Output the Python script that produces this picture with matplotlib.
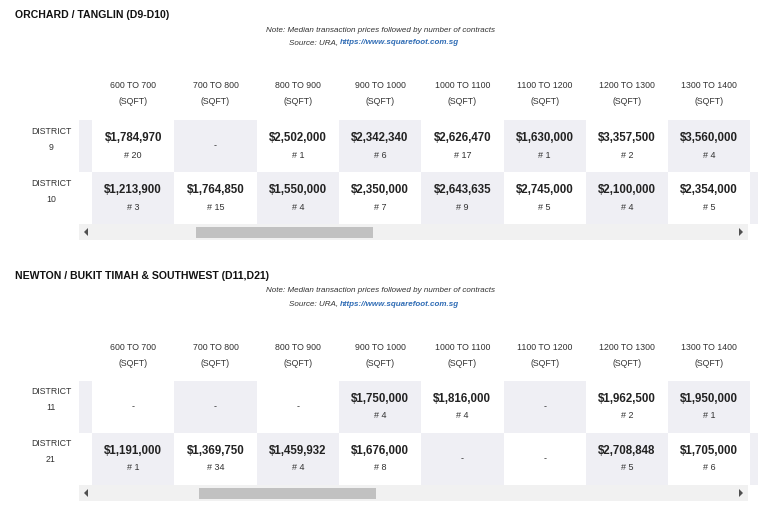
import matplotlib
matplotlib.use("Agg")
import matplotlib.pyplot as plt
from matplotlib.patches import Rectangle, Polygon

plt.rcParams["font.family"] = ["Liberation Sans", "DejaVu Sans"]

# data
sizes = ["600 TO 700", "700 TO 800", "800 TO 900", "900 TO 1000",
         "1000 TO 1100", "1100 TO 1200", "1200 TO 1300", "1300 TO 1400"]

t1_title = "ORCHARD / TANGLIN (D9-D10)"
t1_rows = ["9", "10"]
t1_price = [["$1,784,970", "-", "$2,502,000", "$2,342,340", "$2,626,470", "$1,630,000", "$3,357,500", "$3,560,000"],
            ["$1,213,900", "$1,764,850", "$1,550,000", "$2,350,000", "$2,643,635", "$2,745,000", "$2,100,000", "$2,354,000"]]
t1_count = [["20", "", "1", "6", "17", "1", "2", "4"],
            ["3", "15", "4", "7", "9", "5", "4", "5"]]

t2_title = "NEWTON / BUKIT TIMAH & SOUTHWEST (D11,D21)"
t2_rows = ["11", "21"]
t2_price = [["-", "-", "-", "$1,750,000", "$1,816,000", "-", "$1,962,500", "$1,950,000"],
            ["$1,191,000", "$1,369,750", "$1,459,932", "$1,676,000", "-", "-", "$2,708,848", "$1,705,000"]]
t2_count = [["", "", "", "4", "4", "", "2", "1"],
            ["1", "34", "4", "8", "", "", "5", "6"]]

W, H = 760, 511
fig = plt.figure(figsize=(W / 100, H / 100), dpi=100)
ax = fig.add_axes([0, 0, 1, 1])
ax.set_xlim(0, W)
ax.set_ylim(H, 0)
ax.axis("off")

shade = "#efeff4"
x0, cw = 92, 82.3
rh = 52


def draw_table(top, title, rows, price, count, thumb):
    ax.text(15, top, title, fontsize=7.6, fontweight="bold", va="center", ha="left",
            color="#111111")
    ax.text(381, top + 15, "Note: Median transaction prices followed by number of contracts",
            fontsize=5.8, style="italic", ha="center", va="center", color="#333333")
    ax.text(340, top + 28, "Source: URA, ", fontsize=5.8, style="italic", ha="right", va="center",
            color="#333333")
    ax.text(340, top + 28, "https://www.squarefoot.com.sg", fontsize=5.8, style="italic",
            fontweight="bold", ha="left", va="center", color="#2f6cb5")
    hy = top + 71
    for j, s in enumerate(sizes):
        cx = x0 + cw * (j + 0.5)
        ax.text(cx, hy, s, fontsize=6.3, ha="center", va="center", color="#333333")
        ax.text(cx, hy + 16, "(SQFT)", fontsize=6.3, ha="center", va="center", color="#333333")
    ry0 = top + 105
    for i, r in enumerate(rows):
        y = ry0 + i * rh
        ax.text(51, y + 11, "DISTRICT", fontsize=6.3, ha="center", va="center", color="#333333")
        ax.text(51, y + 27, r, fontsize=6.3, ha="center", va="center", color="#333333")
        if i % 2 == 0:
            ax.add_patch(Rectangle((79, y), 13, rh, color=shade, lw=0))
        else:
            ax.add_patch(Rectangle((x0 + 8 * cw, y), 8, rh, color=shade, lw=0))
        for j in range(len(sizes)):
            cx = x0 + cw * (j + 0.5)
            if (i + j) % 2 == 1:
                ax.add_patch(Rectangle((x0 + cw * j, y), cw, rh, color=shade, lw=0))
            p = price[i][j]
            if p == "-":
                ax.text(cx, y + rh / 2, "-", fontsize=6.5, ha="center", va="center", color="#333333")
            else:
                ax.text(cx, y + 18, p, fontsize=8.3, fontweight="bold", ha="center", va="center",
                        color="#222222")
                ax.text(cx, y + 35, "# " + count[i][j], fontsize=6.5, ha="center", va="center",
                        color="#333333")
    sy = ry0 + 2 * rh
    ax.add_patch(Rectangle((79, sy), 669, 16, color="#f1f1f1", lw=0))
    ax.add_patch(Rectangle((thumb, sy + 3), 177, 11, color="#c1c1c1", lw=0))
    m = sy + 8
    ax.add_patch(Polygon([(84, m), (88, m - 4), (88, m + 4)], color="#505050", lw=0))
    ax.add_patch(Polygon([(743, m), (739, m - 4), (739, m + 4)], color="#505050", lw=0))


draw_table(15, t1_title, t1_rows, t1_price, t1_count, 196)
draw_table(276, t2_title, t2_rows, t2_price, t2_count, 199)

fig.savefig("out.png", dpi=100, facecolor="white")
